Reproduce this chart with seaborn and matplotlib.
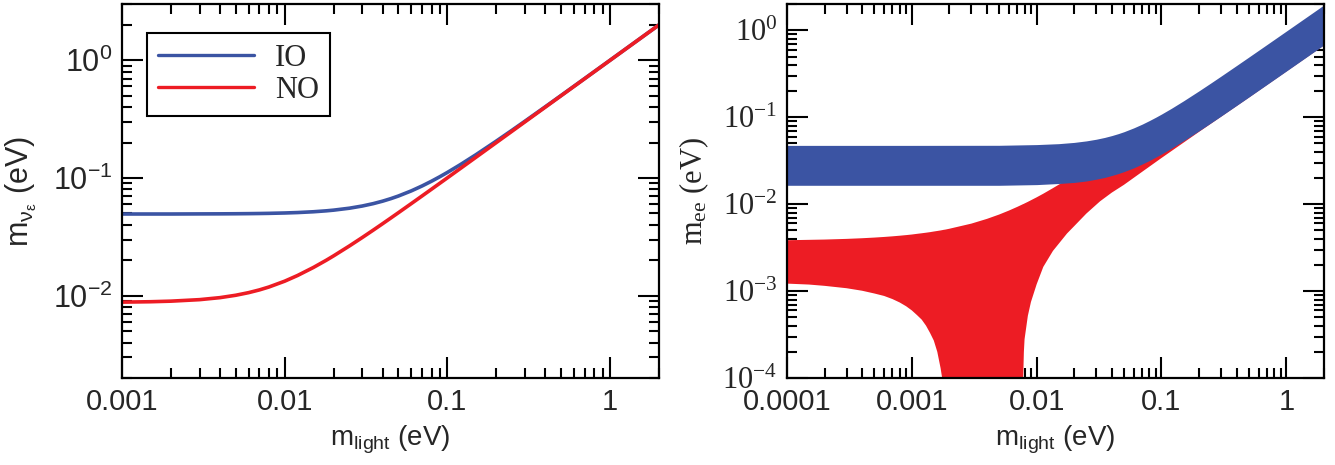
import matplotlib
matplotlib.use("Agg")
import matplotlib.pyplot as plt
import matplotlib.ticker as mticker
import numpy as np
import pandas as pd
import seaborn as sns

# ---- data ----
# left panel: effective electron-neutrino mass vs lightest mass
m_light_left = [0.001, 0.0015, 0.002, 0.003, 0.004, 0.005, 0.006, 0.007, 0.008, 0.01,
                0.012, 0.015, 0.018, 0.02, 0.025, 0.03, 0.035, 0.04, 0.045, 0.05,
                0.06, 0.07, 0.08, 0.09, 0.1, 0.12, 0.15, 0.2, 0.25, 0.3,
                0.4, 0.5, 0.7, 1.0, 1.5, 2.0]
mnue_io = [0.0495, 0.0495, 0.0495, 0.0496, 0.04966, 0.04975, 0.04986, 0.04999, 0.05014, 0.0505,
           0.05093, 0.05172, 0.05267, 0.05339, 0.05545, 0.05788, 0.06062, 0.06364, 0.0669, 0.07036,
           0.07778, 0.08573, 0.09407, 0.10271, 0.11158, 0.12981, 0.15796, 0.20603, 0.25485, 0.30406,
           0.40305, 0.50245, 0.70175, 1.00122, 1.50082, 2.00061]
mnue_no = [0.00883, 0.0089, 0.009, 0.00927, 0.00964, 0.0101, 0.01063, 0.01122, 0.01187, 0.0133,
           0.01487, 0.01738, 0.02002, 0.02184, 0.0265, 0.03126, 0.03608, 0.04095, 0.04585, 0.05076,
           0.06064, 0.07055, 0.08048, 0.09043, 0.10038, 0.12032, 0.15026, 0.2002, 0.25015, 0.30013,
           0.4001, 0.5001, 0.7, 1.0, 1.5, 2.0]

# right panel: m_ee bands (1e-6 = below the plot floor, i.e. zero)
m_light_io = [1e-4, 1e-3, 0.005, 0.01, 0.015, 0.02, 0.025, 0.03, 0.035, 0.04,
              0.045, 0.05, 0.06, 0.07, 0.08, 0.09, 0.1, 0.12, 0.15, 0.2,
              0.25, 0.3, 0.4, 0.5, 0.7, 1.0, 1.5, 2.0]
mee_io_hi = [0.0475, 0.0475, 0.0476, 0.0485, 0.0497, 0.0514, 0.0535, 0.0559, 0.0586, 0.0616,
             0.0648, 0.0682, 0.0756, 0.0834, 0.0917, 0.1002, 0.1089, 0.1268, 0.1545, 0.2017,
             0.2496, 0.2978, 0.3949, 0.4923, 0.6876, 0.9811, 1.4708, 1.9606]
mee_io_lo = [0.0165, 0.0165, 0.0165, 0.0168, 0.0173, 0.0178, 0.0185, 0.0194, 0.0203, 0.0214,
             0.0225, 0.0237, 0.0262, 0.029, 0.0318, 0.0348, 0.0378, 0.044, 0.0536, 0.07,
             0.0866, 0.1033, 0.137, 0.1708, 0.2386, 0.3404, 0.5103, 0.6802]

m_light_no = [1e-4, 1.5e-4, 2e-4, 3e-4, 4e-4, 5e-4, 6e-4, 7e-4, 8e-4, 9e-4,
              1e-3, 1.1e-3, 1.2e-3, 1.3e-3, 1.4e-3, 1.5e-3, 1.6e-3, 1.7e-3, 1.75e-3, 1.8e-3,
              1.85e-3, 1.9e-3, 2e-3, 3e-3, 4e-3, 5e-3, 6e-3, 7e-3, 7.7e-3, 7.75e-3,
              7.8e-3, 7.9e-3, 8e-3, 8.5e-3, 9e-3, 0.01, 0.0113, 0.0135, 0.0175, 0.02,
              0.025, 0.0322, 0.04, 0.05, 0.07, 0.1, 0.2, 0.5, 1.0, 2.0]
mee_no_hi = [0.00385, 0.00389, 0.00392, 0.00399, 0.00406, 0.00413, 0.0042, 0.00427, 0.00434, 0.00441,
             0.00448, 0.00456, 0.00463, 0.0047, 0.00477, 0.00485, 0.00492, 0.00499, 0.00503, 0.00507,
             0.0051, 0.00514, 0.00522, 0.00598, 0.00678, 0.0076, 0.00845, 0.00932, 0.00994, 0.0100,
             0.01003, 0.0101, 0.0102, 0.01064, 0.0111, 0.012, 0.0132, 0.0153, 0.0191, 0.0216,
             0.0264, 0.0335, 0.0413, 0.051, 0.071, 0.1, 0.19, 0.45, 0.9, 1.8]
mee_no_lo = [0.00122, 0.00119, 0.00115, 0.00108, 0.00101, 0.00094, 0.00088, 0.00081, 0.00074, 0.00067,
             0.0006, 0.00053, 0.00047, 0.0004, 0.00033, 0.00027, 0.0002, 0.00013, 0.0001, 0.00007,
             0.00003, 1e-6, 1e-6, 1e-6, 1e-6, 1e-6, 1e-6, 1e-6, 1e-6, 0.00006,
             0.0001, 0.0002, 0.00028, 0.00052, 0.00075, 0.0012, 0.0019, 0.0029, 0.0046, 0.0056,
             0.0078, 0.0108, 0.0136, 0.0167, 0.0236, 0.034, 0.068, 0.168, 0.336, 0.672]

x_ticks_left = [0.001, 0.01, 0.1, 1]
x_labels_left = ["0.001", "0.01", "0.1", "1"]
x_ticks_right = [0.0001, 0.001, 0.01, 0.1, 1]
x_labels_right = ["0.0001", "0.001", "0.01", "0.1", "1"]

BLUE = "#3B54A3"
RED = "#ED1C24"

sns.set_theme(style="ticks")
plt.rcParams["font.family"] = ["Liberation Sans", "DejaVu Sans"]
plt.rcParams["mathtext.default"] = "regular"
plt.rcParams["axes.unicode_minus"] = False

SANS = ["Liberation Sans", "DejaVu Sans"]
SERIF = ["Liberation Serif", "DejaVu Serif"]

fig = plt.figure(figsize=(13.35, 4.65), dpi=100)
ax1 = fig.add_axes([0.0914, 0.187, 0.4022, 0.804])
ax2 = fig.add_axes([0.5895, 0.187, 0.4022, 0.804])


def style_axis(ax, xticks, xlabels, ytick_family):
    ax.set_xscale("log")
    ax.set_yscale("log")
    for sp in ax.spines.values():
        sp.set_linewidth(1.6)
        sp.set_color("black")
    ax.xaxis.set_major_locator(mticker.FixedLocator(xticks))
    ax.xaxis.set_major_formatter(mticker.FixedFormatter(xlabels))
    ax.xaxis.set_minor_locator(mticker.LogLocator(base=10, subs=np.arange(2, 10), numticks=20))
    ax.xaxis.set_minor_formatter(mticker.NullFormatter())
    ax.yaxis.set_major_locator(mticker.LogLocator(base=10, numticks=20))
    ax.yaxis.set_minor_locator(mticker.LogLocator(base=10, subs=np.arange(2, 10), numticks=20))
    ax.yaxis.set_minor_formatter(mticker.NullFormatter())
    ax.tick_params(which="both", direction="in", top=True, right=True,
                   color="black", width=1.5)
    ax.tick_params(which="major", length=15, pad=7)
    ax.tick_params(axis="x", which="major", labelsize=21)
    ax.tick_params(axis="y", which="major", labelsize=22)
    ax.tick_params(which="minor", length=7.5)
    for lab in ax.get_xticklabels():
        lab.set_family(SANS)
    for lab in ax.get_yticklabels():
        lab.set_family(ytick_family)
    ax.grid(False)


# ---- left panel ----
df_left = pd.DataFrame({
    "m_light": m_light_left * 2,
    "m": mnue_io + mnue_no,
    "order": ["IO"] * len(m_light_left) + ["NO"] * len(m_light_left),
})
sns.lineplot(data=df_left, x="m_light", y="m", hue="order",
             palette={"IO": BLUE, "NO": RED}, linewidth=2.6, ax=ax1)
ax1.set_xlim(0.001, 2)
ax1.set_ylim(0.002, 3)
style_axis(ax1, x_ticks_left, x_labels_left, SANS)
ax1.set_xlabel(r"m$_{light}$ (eV)", fontsize=20, family=SANS, labelpad=6)
ax1.set_ylabel(r"m$_{\nu_\varepsilon}$ (eV)", fontsize=22, family=SANS, labelpad=10)
leg = ax1.legend(loc="upper left", bbox_to_anchor=(0.0466, 0.9225), borderaxespad=0,
                 frameon=True, fancybox=False, edgecolor="black", framealpha=1,
                 handlelength=3.15, handletextpad=0.7, borderpad=0.35, labelspacing=0.1,
                 prop={"family": SERIF, "size": 22}, title=None)
leg.get_frame().set_linewidth(1.5)
for ln in leg.get_lines():
    ln.set_linewidth(2.4)

# ---- right panel ----
ax2.fill_between(m_light_no, mee_no_lo, mee_no_hi, color=RED, linewidth=0)
ax2.fill_between(m_light_io, mee_io_lo, mee_io_hi, color=BLUE, linewidth=0)
ax2.set_xlim(0.0001, 2)
ax2.set_ylim(0.0001, 2)
style_axis(ax2, x_ticks_right, x_labels_right, SERIF)
ax2.set_xlabel(r"m$_{light}$ (eV)", fontsize=20, family=SANS, labelpad=6)
ax2.set_ylabel(r"m$_{ee}$ (eV)", fontsize=22, family=SERIF, labelpad=8)

fig.savefig("out.png", dpi=100)
